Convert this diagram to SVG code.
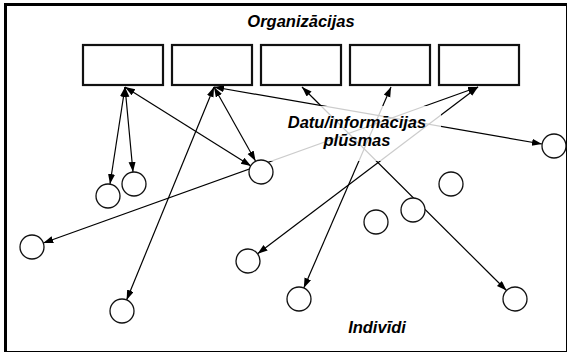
<svg xmlns="http://www.w3.org/2000/svg" width="568" height="353" viewBox="0 0 568 353">
<style>
.org{fill:#fff;stroke:#111;stroke-width:2.2}
.ind{fill:#fff;stroke:#111;stroke-width:1.3}
.flow{fill:none;stroke:#000;stroke-width:1.2;marker-start:url(#ah);marker-end:url(#ah)}
.lbl{font-family:"Liberation Sans",Arial,sans-serif;font-weight:bold;font-style:italic;font-size:16.5px;fill:#000;text-anchor:middle}
</style>
<defs>
<marker id="ah" markerUnits="userSpaceOnUse" markerWidth="10" markerHeight="8" refX="10" refY="3.5" orient="auto-start-reverse">
<path d="M0,0 L10,3.5 L0,7 z" fill="#000"/>
</marker>
</defs>
<rect x="0" y="0" width="568" height="353" fill="#fff"/>
<g id="frame">
<line x1="5.5" y1="3" x2="5.5" y2="352" stroke="#000" stroke-width="3"/>
<line x1="4" y1="4.5" x2="567" y2="4.5" stroke="#000" stroke-width="3"/>
<line x1="566.5" y1="4" x2="566.5" y2="352" stroke="#000" stroke-width="1"/>
<line x1="4" y1="351.5" x2="567" y2="351.5" stroke="#000" stroke-width="1"/>
</g>
<g id="connectors">
<line class="flow" x1="125" y1="87" x2="110" y2="184"/>
<line class="flow" x1="125" y1="87" x2="133" y2="172"/>
<line class="flow" x1="125" y1="87" x2="251" y2="166"/>
<line class="flow" x1="214" y1="87" x2="126.6" y2="300"/>
<line class="flow" x1="214" y1="87" x2="255.5" y2="161"/>
<line class="flow" x1="214" y1="87" x2="542" y2="144"/>
<line class="flow" x1="302" y1="87" x2="506.5" y2="290.5"/>
<line class="flow" x1="391" y1="87" x2="303.8" y2="288"/>
<line class="flow" x1="478" y1="87" x2="43.3" y2="243"/>
<line class="flow" x1="478" y1="87" x2="257.6" y2="253.7"/>
</g>
<rect id="label-veil" x="266" y="106" width="175" height="55" fill="#fff" fill-opacity="0.8"/>
<g id="org1"><rect class="org" x="83" y="45" width="80" height="40"/></g>
<g id="org2"><rect class="org" x="172" y="45" width="80" height="40"/></g>
<g id="org3"><rect class="org" x="261" y="45" width="80" height="40"/></g>
<g id="org4"><rect class="org" x="350" y="45" width="80" height="40"/></g>
<g id="org5"><rect class="org" x="439" y="45" width="80" height="40"/></g>
<g id="ind1"><circle class="ind" cx="108" cy="196" r="12"/></g>
<g id="ind2"><circle class="ind" cx="134" cy="184" r="12"/></g>
<g id="ind3"><circle class="ind" cx="261" cy="172" r="12"/></g>
<g id="ind4"><circle class="ind" cx="32" cy="247" r="12"/></g>
<g id="ind5"><circle class="ind" cx="122" cy="311" r="12"/></g>
<g id="ind6"><circle class="ind" cx="248" cy="261" r="12"/></g>
<g id="ind7"><circle class="ind" cx="299" cy="299" r="12"/></g>
<g id="ind8"><circle class="ind" cx="376" cy="222" r="12"/></g>
<g id="ind9"><circle class="ind" cx="413" cy="210" r="12"/></g>
<g id="ind10"><circle class="ind" cx="451" cy="184" r="12"/></g>
<g id="ind11"><circle class="ind" cx="554" cy="146" r="12"/></g>
<g id="ind12"><circle class="ind" cx="515" cy="299" r="12"/></g>
<g id="labels">
<text class="lbl" x="301" y="27">Organizācijas</text>
<text class="lbl" x="357" y="128">Datu/informācijas</text>
<text class="lbl" x="357" y="146">plūsmas</text>
<text class="lbl" x="377" y="333">Indivīdi</text>
</g>
</svg>
